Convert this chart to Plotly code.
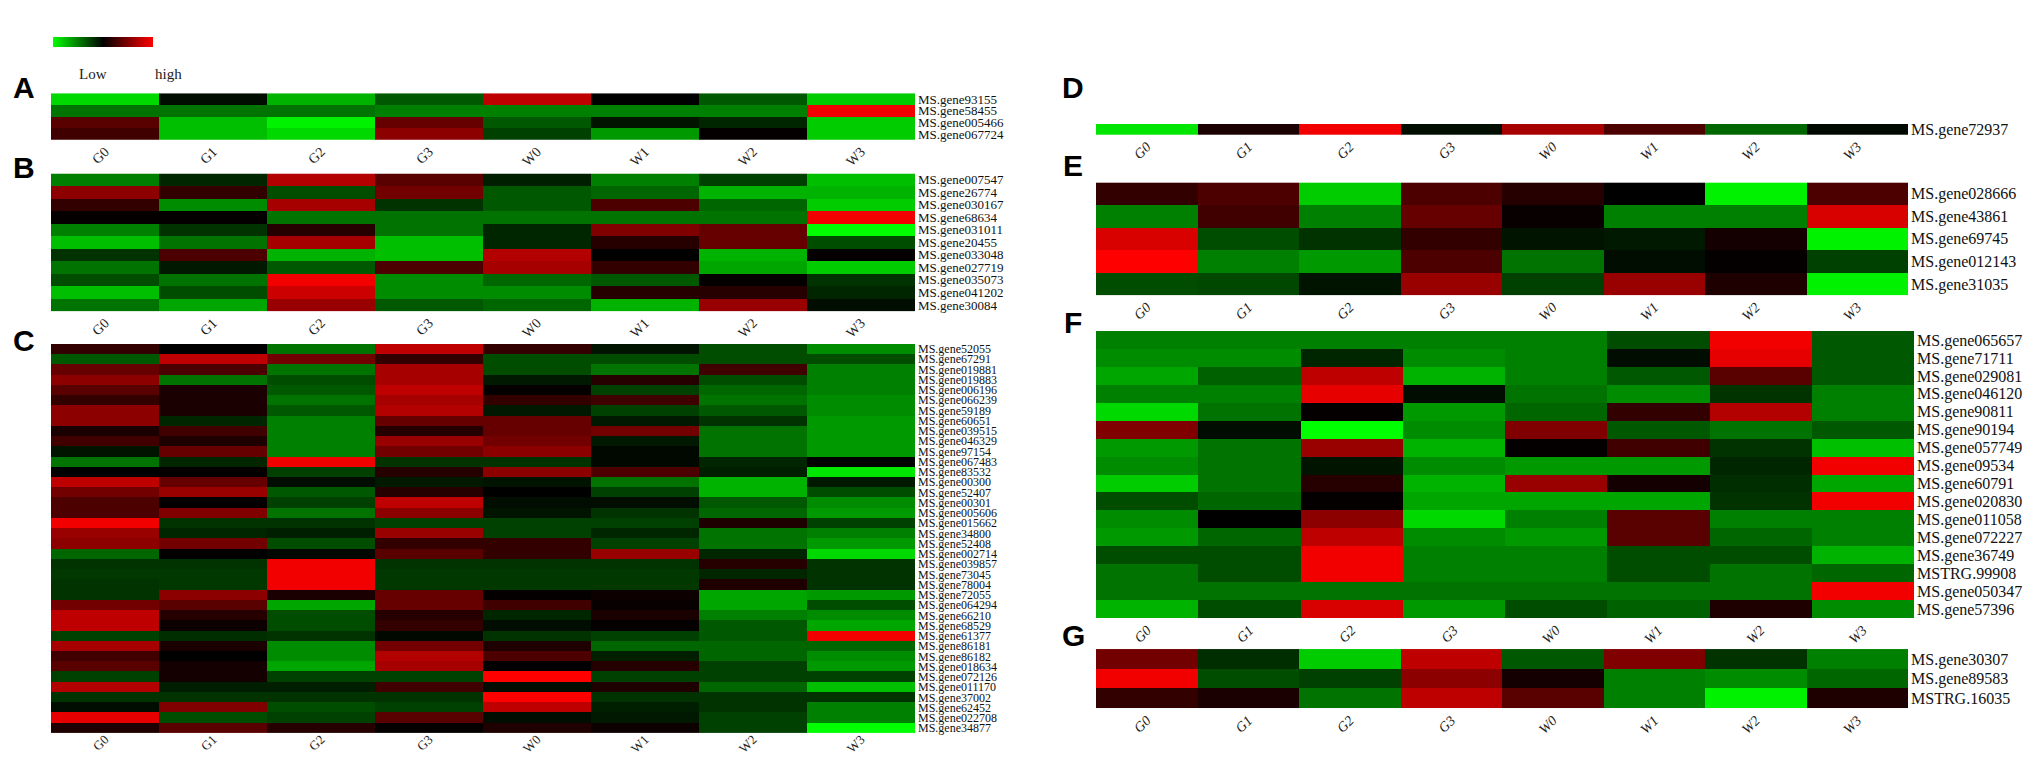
import plotly.graph_objects as go

W, H = 2033, 758

groups = ["G0", "G1", "G2", "G3", "W0", "W1", "W2", "W3"]

# low -> green, mid -> black, high -> red
scale = [[0.0, "#00ff00"], [0.5, "#000000"], [1.0, "#ff0000"]]

genes_a = ["MS.gene93155", "MS.gene58455", "MS.gene005466", "MS.gene067724"]
vals_a = [
    [-0.85, -0.05, -0.70, -0.35, 0.75, 0.00, -0.35, -0.80],
    [-0.45, -0.45, -0.45, -0.50, -0.50, -0.50, -0.50, 0.95],
    [0.35, -0.75, -0.95, 0.40, -0.35, -0.08, -0.15, -0.80],
    [0.25, -0.75, -0.85, 0.55, -0.25, -0.60, 0.02, -0.80],
]

genes_b = ["MS.gene007547", "MS.gene26774", "MS.gene030167", "MS.gene68634",
           "MS.gene031011", "MS.gene20455", "MS.gene033048", "MS.gene027719",
           "MS.gene035073", "MS.gene041202", "MS.gene30084"]
vals_b = [
    [-0.50, -0.15, 0.70, 0.35, -0.12, -0.50, -0.25, -0.75],
    [0.55, 0.20, -0.30, 0.45, -0.35, -0.40, -0.70, -0.70],
    [0.20, -0.55, 0.65, -0.20, -0.35, 0.30, -0.40, -0.80],
    [0.02, 0.02, -0.45, -0.45, -0.45, -0.45, -0.45, 0.95],
    [-0.50, -0.20, 0.15, -0.45, -0.15, 0.50, 0.40, -1.00],
    [-0.75, -0.45, 0.65, -0.75, -0.15, 0.15, 0.40, -0.30],
    [-0.20, 0.30, -0.70, -0.75, 0.70, 0.00, -0.70, 0.02],
    [-0.45, -0.10, -0.35, 0.30, 0.65, 0.20, -0.65, -0.80],
    [-0.30, -0.45, 0.95, -0.55, -0.40, -0.35, 0.02, -0.20],
    [-0.75, -0.30, 0.80, -0.55, -0.55, 0.15, 0.15, -0.15],
    [-0.45, -0.65, 0.60, -0.35, -0.40, -0.70, 0.60, -0.05],
]

genes_c = ["MS.gene52055", "MS.gene67291", "MS.gene019881", "MS.gene019883",
           "MS.gene006196", "MS.gene066239", "MS.gene59189", "MS.gene60651",
           "MS.gene039515", "MS.gene046329", "MS.gene97154", "MS.gene067483",
           "MS.gene83532", "MS.gene00300", "MS.gene52407", "MS.gene00301",
           "MS.gene005606", "MS.gene015662", "MS.gene34800", "MS.gene52408",
           "MS.gene002714", "MS.gene039857", "MS.gene73045", "MS.gene78004",
           "MS.gene72055", "MS.gene064294", "MS.gene66210", "MS.gene68529",
           "MS.gene61377", "MS.gene86181", "MS.gene86182", "MS.gene018634",
           "MS.gene072126", "MS.gene011170", "MS.gene37002", "MS.gene62452",
           "MS.gene022708", "MS.gene34877"]
vals_c = [
    [0.20, 0.00, -0.45, 0.75, 0.20, -0.08, -0.30, -0.55],
    [-0.35, 0.75, 0.45, 0.20, -0.30, -0.30, -0.30, -0.30],
    [0.40, 0.30, -0.45, 0.65, -0.30, -0.45, 0.25, -0.50],
    [0.55, -0.45, -0.30, 0.65, -0.10, 0.15, -0.30, -0.50],
    [0.35, 0.10, -0.35, 0.75, 0.02, -0.25, -0.40, -0.50],
    [0.20, 0.10, -0.45, 0.65, 0.20, 0.25, -0.45, -0.55],
    [0.55, 0.10, -0.35, 0.70, -0.10, -0.25, -0.35, -0.55],
    [0.55, -0.15, -0.50, 0.40, 0.40, -0.10, -0.20, -0.60],
    [0.10, 0.25, -0.50, 0.15, 0.40, 0.45, -0.45, -0.60],
    [0.25, 0.12, -0.50, 0.60, 0.45, -0.10, -0.45, -0.60],
    [-0.08, 0.40, -0.50, 0.45, 0.55, -0.03, -0.45, -0.60],
    [-0.45, -0.15, 0.95, -0.20, -0.20, -0.03, -0.15, 0.00],
    [0.00, 0.02, -0.25, 0.15, 0.55, 0.30, -0.12, -0.90],
    [0.75, 0.40, -0.05, -0.10, -0.08, -0.45, -0.70, -0.10],
    [0.45, 0.60, -0.35, 0.15, 0.00, -0.25, -0.70, -0.30],
    [0.30, 0.02, -0.25, 0.75, -0.05, -0.05, -0.35, -0.55],
    [0.30, 0.50, -0.45, 0.55, -0.08, -0.20, -0.40, -0.60],
    [0.95, -0.20, -0.20, -0.25, -0.25, -0.25, 0.12, -0.25],
    [0.60, -0.15, -0.12, 0.60, -0.25, -0.15, -0.45, -0.50],
    [0.55, 0.45, -0.30, 0.20, 0.20, -0.25, -0.45, -0.60],
    [-0.40, 0.00, -0.03, 0.35, 0.20, 0.60, -0.15, -0.85],
    [-0.20, -0.20, 0.95, -0.20, -0.20, -0.20, 0.15, -0.20],
    [-0.22, -0.22, 0.95, -0.22, -0.22, -0.22, -0.15, -0.20],
    [-0.20, -0.22, 0.95, -0.22, -0.22, -0.22, 0.12, -0.20],
    [-0.20, 0.55, 0.10, 0.40, 0.02, 0.05, -0.65, -0.60],
    [0.45, 0.35, -0.65, 0.40, 0.25, 0.03, -0.65, -0.30],
    [0.75, 0.15, -0.30, 0.15, -0.15, 0.10, -0.50, -0.55],
    [0.75, 0.05, -0.30, 0.20, -0.05, 0.02, -0.35, -0.65],
    [-0.25, -0.18, -0.20, -0.03, -0.20, -0.25, -0.35, 0.95],
    [0.65, 0.10, -0.55, 0.45, 0.12, -0.40, -0.40, -0.40],
    [0.25, 0.00, -0.55, 0.70, 0.30, -0.12, -0.40, -0.55],
    [0.35, 0.08, -0.65, 0.65, 0.00, 0.15, -0.25, -0.60],
    [-0.25, 0.08, -0.25, -0.25, 1.00, -0.25, -0.25, -0.25],
    [0.70, -0.12, -0.12, 0.25, -0.05, 0.12, -0.40, -0.75],
    [-0.20, -0.20, -0.20, -0.20, 1.00, -0.20, -0.20, -0.20],
    [-0.05, 0.50, -0.30, -0.25, 0.75, -0.12, -0.20, -0.50],
    [0.90, -0.30, -0.25, 0.35, -0.05, -0.10, -0.25, -0.50],
    [0.12, 0.35, 0.15, 0.02, 0.12, 0.05, -0.25, -1.00],
]

genes_d = ["MS.gene72937"]
vals_d = [[-0.90, 0.10, 0.95, -0.05, 0.65, 0.30, -0.40, -0.03]]

genes_e = ["MS.gene028666", "MS.gene43861", "MS.gene69745", "MS.gene012143", "MS.gene31035"]
vals_e = [
    [0.20, 0.30, -0.80, 0.30, 0.15, 0.00, -0.95, 0.30],
    [-0.50, 0.25, -0.50, 0.40, 0.03, -0.50, -0.50, 0.85],
    [0.85, -0.30, -0.20, 0.20, -0.08, -0.10, 0.08, -0.95],
    [1.00, -0.50, -0.60, 0.30, -0.45, -0.05, 0.02, -0.25],
    [-0.30, -0.28, -0.08, 0.60, -0.25, 0.60, 0.12, -0.95],
]

genes_f = ["MS.gene065657", "MS.gene71711", "MS.gene029081", "MS.gene046120",
           "MS.gene90811", "MS.gene90194", "MS.gene057749", "MS.gene09534",
           "MS.gene60791", "MS.gene020830", "MS.gene011058", "MS.gene072227",
           "MS.gene36749", "MSTRG.99908", "MS.gene050347", "MS.gene57396"]
vals_f = [
    [-0.50, -0.50, -0.50, -0.50, -0.50, -0.30, 0.95, -0.35],
    [-0.55, -0.55, -0.15, -0.55, -0.50, -0.05, 0.90, -0.35],
    [-0.65, -0.38, 0.75, -0.70, -0.50, -0.35, 0.35, -0.35],
    [-0.50, -0.50, 0.90, -0.05, -0.45, -0.55, -0.20, -0.50],
    [-0.85, -0.45, 0.02, -0.60, -0.40, 0.20, 0.70, -0.50],
    [0.50, -0.05, -1.00, -0.55, 0.50, -0.35, -0.45, -0.35],
    [-0.60, -0.45, 0.60, -0.70, 0.02, 0.25, -0.20, -0.75],
    [-0.55, -0.45, -0.08, -0.55, -0.60, -0.60, -0.15, 0.95],
    [-0.80, -0.45, 0.15, -0.70, 0.60, 0.08, -0.18, -0.65],
    [-0.30, -0.40, 0.02, -0.65, -0.65, -0.65, -0.20, 0.95],
    [-0.55, 0.00, 0.55, -0.85, -0.50, 0.35, -0.50, -0.50],
    [-0.60, -0.40, 0.75, -0.55, -0.60, 0.35, -0.40, -0.50],
    [-0.30, -0.30, 0.95, -0.50, -0.50, -0.30, -0.30, -0.70],
    [-0.45, -0.30, 0.95, -0.50, -0.50, -0.30, -0.45, -0.40],
    [-0.45, -0.45, -0.45, -0.45, -0.45, -0.45, -0.45, 0.95],
    [-0.70, -0.30, 0.85, -0.60, -0.30, -0.38, 0.12, -0.55],
]

genes_g = ["MS.gene30307", "MS.gene89583", "MSTRG.16035"]
vals_g = [
    [0.45, -0.18, -0.80, 0.75, -0.35, 0.50, -0.20, -0.50],
    [0.95, -0.30, -0.25, 0.55, 0.08, -0.50, -0.55, -0.40],
    [0.20, 0.10, -0.45, 0.75, 0.35, -0.50, -0.95, 0.12],
]

serif = "Liberation Serif, Times New Roman, serif"
bold = "Liberation Sans Narrow, Arial Narrow, Liberation Sans, sans-serif"

fig = go.Figure()


def add_panel(idx, letter, genes, vals, x0, x1, y0, y1, lab_size, tick_style,
              letter_pos, tick_size=14, standoff=0):
    xref = "x" if idx == 1 else f"x{idx}"
    yref = "y" if idx == 1 else f"y{idx}"
    trace = go.Heatmap(
        z=vals, x=groups, y=genes, xaxis=xref, yaxis=yref,
        colorscale=scale, zmin=-1, zmax=1, showscale=False,
        hoverinfo="skip",
    )
    if idx == 1:
        # small green-black-red key in the top left corner
        trace.update(showscale=True, colorbar=dict(
            orientation="h", x=45 / W, xanchor="left", y=1 - 26 / H, yanchor="top",
            len=100, lenmode="pixels", thickness=10, thicknessmode="pixels",
            showticklabels=False, ticks="", outlinewidth=0, xpad=0, ypad=0,
        ))
    fig.add_trace(trace)
    fig.update_layout(**{
        ("xaxis" if idx == 1 else f"xaxis{idx}"): dict(
            domain=[x0 / W, x1 / W], anchor=yref, tickangle=-45, showgrid=False,
            zeroline=False, ticks="", showline=False, ticklabelstandoff=standoff,
            tickfont=dict(family=serif, size=tick_size, color="#222", style=tick_style),
        ),
        ("yaxis" if idx == 1 else f"yaxis{idx}"): dict(
            domain=[1 - y1 / H, 1 - y0 / H], anchor=xref, side="right",
            autorange="reversed", showgrid=False, zeroline=False, ticks="",
            tickmode="array", tickvals=genes, ticktext=genes, ticklabelstandoff=2,
            tickfont=dict(family=serif, size=lab_size, color="#111"),
        ),
    })
    fig.add_annotation(
        text=f"<b>{letter}</b>", x=letter_pos[0] / W, y=1 - letter_pos[1] / H,
        xref="paper", yref="paper", showarrow=False, xanchor="center", yanchor="middle",
        font=dict(family=bold, size=30, color="black"),
    )


add_panel(1, "A", genes_a, vals_a, 43, 907, 83, 130, 13, "normal", (16, 77))
add_panel(2, "B", genes_b, vals_b, 43, 907, 164, 303, 13, "normal", (16, 158))
add_panel(3, "C", genes_c, vals_c, 43, 907, 336, 729, 12, "normal", (16, 333),
          tick_size=13, standoff=-5)
add_panel(4, "D", genes_d, vals_d, 1088, 1900, 114, 125, 16, "italic", (1065, 77))
add_panel(5, "E", genes_e, vals_e, 1088, 1900, 173, 287, 16, "italic", (1065, 156))
add_panel(6, "F", genes_f, vals_f, 1088, 1906, 323, 613, 16, "italic", (1065, 314))
add_panel(7, "G", genes_g, vals_g, 1088, 1900, 644, 704, 16, "italic", (1065, 630))

fig.add_annotation(text="Low", x=69 / W, y=1 - 53 / H, xref="paper", yref="paper",
                   showarrow=False, font=dict(family=serif, size=15, color="#222"))
fig.add_annotation(text="high", x=145 / W, y=1 - 53 / H, xref="paper", yref="paper",
                   showarrow=False, font=dict(family=serif, size=15, color="#222"))

fig.update_layout(
    width=W, height=H,
    margin=dict(l=0, r=0, t=0, b=0),
    paper_bgcolor="white", plot_bgcolor="white",
    showlegend=False,
)

fig.write_html("out.html")
